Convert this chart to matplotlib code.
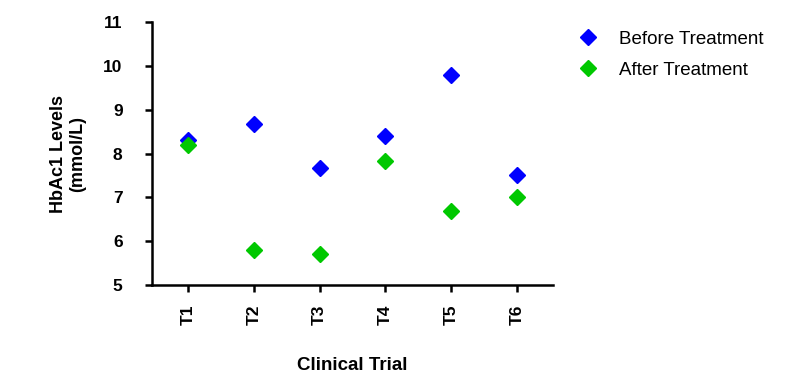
import matplotlib
matplotlib.use("Agg")
import matplotlib.pyplot as plt

trials = ["T1", "T2", "T3", "T4", "T5", "T6"]
before = [8.3, 8.67, 7.67, 8.4, 9.8, 7.5]
after = [8.2, 5.8, 5.7, 7.82, 6.7, 7.0]

plt.rcParams['font.family'] = ['Liberation Sans', 'DejaVu Sans']

fig = plt.figure(figsize=(8.03, 3.76), dpi=100)
ax = fig.add_axes([0.189, 0.242, 0.500, 0.699])
x = list(range(len(trials)))
ax.plot(x, before, linestyle='none', marker='D', markersize=8, color='#0000FF',
        label='Before Treatment', clip_on=False)
ax.plot(x, after, linestyle='none', marker='D', markersize=8, color='#00C800',
        label='After Treatment', clip_on=False)

ax.set_xlim(-0.55, 5.55)
ax.set_ylim(5, 11)
ax.set_yticks([5, 6, 7, 8, 9, 10, 11])
ax.set_xticks(x)
ax.set_xticklabels(trials, rotation=90)
for lab in ax.get_xticklabels() + ax.get_yticklabels():
    lab.set_fontweight('bold')
    lab.set_fontsize(12.5)
ax.spines['top'].set_visible(False)
ax.spines['right'].set_visible(False)
ax.spines['left'].set_linewidth(1.8)
ax.spines['bottom'].set_linewidth(1.8)
ax.tick_params(axis='both', width=1.8, length=5, direction='out')
ax.tick_params(axis='y', pad=16)
ax.tick_params(axis='x', pad=9)
ax.set_ylabel("HbAc1 Levels\n(mmol/L)", fontsize=13, fontweight='bold', labelpad=12)
ax.set_xlabel("Clinical Trial", fontsize=13.5, fontweight='bold', labelpad=23)

ax.legend(loc='upper left', bbox_to_anchor=(1.02, 1.032), frameon=False, fontsize=13.5,
          handletextpad=1.2, labelspacing=0.75, handlelength=1.0)

fig.savefig("out.png", dpi=100)
